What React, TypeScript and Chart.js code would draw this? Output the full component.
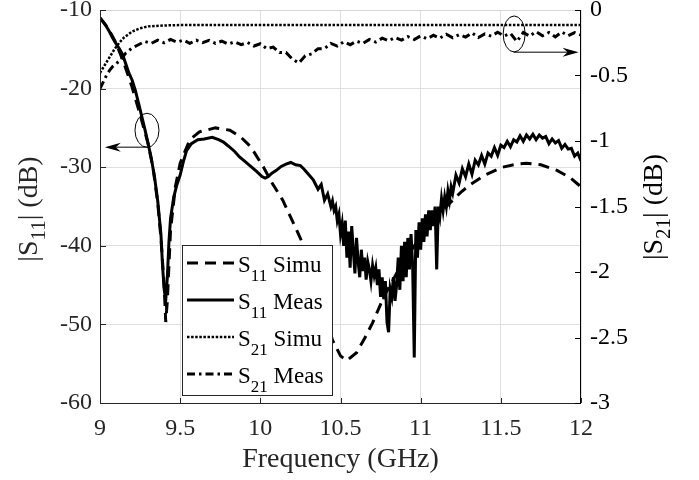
import React, { useEffect, useRef } from 'react';
import { Chart, registerables } from 'chart.js';

Chart.register(...registerables);

// ---------- axis ticks ----------
const xTicks = [9, 9.5, 10, 10.5, 11, 11.5, 12];
const xTickLabels = ['9', '9.5', '10', '10.5', '11', '11.5', '12'];
const leftTicks = [-60, -50, -40, -30, -20, -10];
const leftTickLabels = ['-60', '-50', '-40', '-30', '-20', '-10'];
const rightTicks = [-3, -2.5, -2, -1.5, -1, -0.5, 0];
const rightTickLabels = ['-3', '-2.5', '-2', '-1.5', '-1', '-0.5', '0'];

// ---------- S11 simulated (dB, left axis) ----------
const s11SimuFreq = [
  9.0, 9.05, 9.1, 9.15, 9.2, 9.25, 9.3, 9.33, 9.36, 9.38, 9.4, 9.41, 9.42, 9.44, 9.47,
  9.5, 9.56, 9.62, 9.72, 9.81, 9.88, 9.94, 10.02, 10.07, 10.14, 10.24, 10.31, 10.38,
  10.45, 10.5, 10.54, 10.6, 10.65, 10.7, 10.77, 10.85, 10.95, 11.05, 11.15, 11.25,
  11.31, 11.4, 11.51, 11.6, 11.66, 11.75, 11.85, 11.93, 12.0,
];
const s11SimuVal = [
  -11, -12.3, -14.2, -16.8, -19.8, -23.3, -27.0, -30.0, -34.5, -39.0, -45.0, -49.7, -47.0, -38.0, -32.5,
  -29.5, -26.5, -25.5, -25.0, -25.3, -26.2, -27.4, -30.0, -31.9, -34.2, -38.6, -41.8, -46.9,
  -52.0, -54.0, -54.6, -53.6, -51.8, -49.8, -46.5, -43.5, -40.3, -37.5, -35.2, -33.2,
  -32.2, -31.0, -30.0, -29.6, -29.5, -29.7, -30.4, -31.3, -32.5,
];

// ---------- S11 measured (dB, left axis) ----------
const s11MeasFreq = [
  9.0, 9.02, 9.04, 9.06, 9.08, 9.1, 9.12, 9.14, 9.16, 9.18, 9.2, 9.22, 9.24, 9.26, 9.28,
  9.3, 9.32, 9.34, 9.36, 9.38, 9.39, 9.4, 9.41, 9.42, 9.43, 9.44, 9.46, 9.48, 9.5, 9.52,
  9.54, 9.57, 9.61, 9.65, 9.7, 9.74, 9.77, 9.8, 9.84, 9.87, 9.9, 9.94, 9.98, 10.01, 10.03,
  10.05, 10.07, 10.1, 10.13, 10.16, 10.19, 10.22, 10.25, 10.27, 10.3, 10.33, 10.36, 10.38,
  10.4, 10.42, 10.44, 10.45,
  10.46, 10.47, 10.48, 10.49, 10.5, 10.51, 10.52, 10.53, 10.54, 10.55, 10.56, 10.57, 10.58,
  10.59, 10.6, 10.61, 10.62, 10.63, 10.64, 10.65, 10.66, 10.67, 10.68, 10.69, 10.7, 10.71,
  10.72, 10.73, 10.74, 10.75, 10.76, 10.77, 10.78, 10.79, 10.8, 10.81, 10.82, 10.83, 10.84,
  10.85, 10.86, 10.87, 10.88, 10.89, 10.9, 10.91, 10.92, 10.93, 10.94, 10.95, 10.96, 10.97,
  10.98, 10.99, 11.0, 11.01, 11.02, 11.03, 11.04, 11.05, 11.06, 11.07, 11.08, 11.09, 11.1,
  11.11, 11.12, 11.13, 11.14, 11.15, 11.16, 11.17, 11.18, 11.19, 11.2,
  11.22, 11.24, 11.26, 11.28, 11.3, 11.32, 11.34, 11.36, 11.38, 11.4, 11.42, 11.44, 11.46,
  11.48, 11.5, 11.52, 11.54, 11.56, 11.58, 11.6, 11.62, 11.64, 11.66, 11.68, 11.7, 11.72,
  11.74, 11.76, 11.78, 11.8, 11.82, 11.84, 11.86, 11.88, 11.9, 11.92, 11.94, 11.96, 11.98, 12.0,
];
const s11MeasVal = [
  -11.0, -11.5, -12.1, -12.8, -13.6, -14.3, -14.9, -15.6, -16.8, -18.0, -18.9, -20.2, -21.8, -23.5, -25.2,
  -27.0, -28.9, -31.2, -34.3, -38.5, -42.5, -45.5, -46.9, -44.0, -39.5, -36.5, -33.8, -32.2, -31.0, -29.3,
  -27.9, -27.0, -26.5, -26.4, -26.2, -26.5, -26.8, -27.3, -28.0, -28.7, -29.2, -29.9, -30.6, -31.2, -31.4,
  -31.2, -30.8, -30.4, -29.9, -29.6, -29.4, -29.7, -29.8, -30.2, -30.9, -31.6, -32.8, -32.2,
  -34.2, -33.4, -35.0, -34.3,
  -35.5, -35.0, -36.8, -36.0, -38.5, -37.2, -40.0, -36.8, -41.5, -38.2, -42.8, -37.5, -40.6,
  -43.5, -39.0, -42.0, -44.0, -40.5, -43.2, -41.5, -44.3, -42.0, -43.0, -44.5, -42.5, -43.8,
  -42.8, -45.0, -43.0, -46.5, -44.0, -46.8, -44.5, -49.7, -51.0, -45.5, -46.5, -44.0, -47.0,
  -45.0, -41.5, -45.6, -40.0, -44.5, -39.5, -44.0, -39.0, -43.0, -38.5, -42.5, -54.2, -38.0,
  -41.5, -37.0, -40.5, -36.5, -39.5, -36.0, -38.8, -35.5, -38.0, -35.5, -37.5, -35.0, -43.0,
  -35.0, -36.2, -34.0, -35.5, -33.8, -35.0, -33.0, -34.2, -32.5, -33.3,
  -31.0, -32.0, -30.2, -31.2, -29.6, -30.9, -29.1, -29.7, -28.5, -29.6, -28.2, -28.6, -27.5,
  -28.5, -27.2, -27.5, -26.7, -27.4, -26.5, -26.8, -26.0, -26.7, -25.9, -26.4, -25.8, -26.5,
  -25.9, -26.3, -26.1, -27.0, -26.4, -26.9, -26.6, -27.6, -27.1, -27.7, -27.6, -28.6, -28.2, -29.2,
];

// ---------- S21 simulated (dB, right axis) ----------
const s21SimuFreq = [9.0, 9.03, 9.06, 9.09, 9.12, 9.15, 9.2, 9.25, 9.3, 9.4, 9.5, 10.0, 10.5, 11.0, 11.5, 12.0];
const s21SimuVal = [-0.48, -0.42, -0.36, -0.3, -0.25, -0.21, -0.165, -0.14, -0.125, -0.118, -0.115, -0.115, -0.115, -0.115, -0.115, -0.115];

// ---------- S21 measured (dB, right axis) ----------
const s21MeasFreq = [
  9.0, 9.02, 9.04, 9.06, 9.08, 9.1, 9.13, 9.16, 9.2,
  9.24, 9.28, 9.32, 9.36, 9.4, 9.44, 9.48, 9.52, 9.56, 9.6, 9.64, 9.68, 9.72, 9.76, 9.8,
  9.84, 9.88, 9.92, 9.96, 10.0, 10.04, 10.08, 10.12, 10.16, 10.2, 10.24, 10.28, 10.32,
  10.36, 10.4, 10.44, 10.48, 10.52, 10.56, 10.6, 10.64, 10.68, 10.72, 10.76, 10.8, 10.84,
  10.88, 10.92, 10.96, 11.0, 11.04, 11.08, 11.12, 11.16, 11.2, 11.24, 11.28, 11.32, 11.36,
  11.4, 11.44, 11.48, 11.52, 11.56, 11.6, 11.64, 11.68, 11.72, 11.76, 11.8, 11.84, 11.88,
  11.92, 11.96, 12.0,
];
const s21MeasVal = [
  -0.6, -0.55, -0.5, -0.46, -0.43, -0.41, -0.38, -0.33, -0.29,
  -0.265, -0.24, -0.255, -0.23, -0.25, -0.225, -0.245, -0.23, -0.255, -0.23, -0.25, -0.232, -0.255, -0.237, -0.26,
  -0.243, -0.265, -0.248, -0.275, -0.258, -0.295, -0.283, -0.325, -0.325, -0.375, -0.405, -0.35, -0.335,
  -0.295, -0.295, -0.255, -0.275, -0.243, -0.265, -0.238, -0.255, -0.225, -0.245, -0.215, -0.235, -0.21,
  -0.23, -0.203, -0.225, -0.198, -0.22, -0.193, -0.215, -0.185, -0.212, -0.188, -0.207, -0.175, -0.21,
  -0.182, -0.2, -0.17, -0.198, -0.178, -0.24, -0.172, -0.2, -0.165, -0.196, -0.172, -0.205, -0.168,
  -0.196, -0.172, -0.192,
];

// ---------- legend ----------
const legendSubs = ['11', '11', '21', '21'];
const legendNames = ['Simu', 'Meas', 'Simu', 'Meas'];

const FONT = '"Liberation Serif", "Times New Roman", serif';

const zip = (f: number[], v: number[]) => f.map((x, i) => ({ x, y: v[i] }));

const lineStyles = [
  { width: 3, dash: [11, 7] },
  { width: 3, dash: [] as number[] },
  { width: 2.5, dash: [2.5, 1.6] },
  { width: 3, dash: [8, 4, 2.5, 4] },
];

type Part = [string, number, number];

function partsWidth(ctx: CanvasRenderingContext2D, parts: Part[]) {
  let w = 0;
  for (const [t, s] of parts) {
    ctx.font = `${s}px ${FONT}`;
    w += ctx.measureText(t).width;
  }
  return w;
}
function drawParts(ctx: CanvasRenderingContext2D, parts: Part[], x: number, y: number) {
  let cx = x;
  for (const [t, s, dy] of parts) {
    ctx.font = `${s}px ${FONT}`;
    ctx.fillText(t, cx, y + dy);
    cx += ctx.measureText(t).width;
  }
}

function arrow(ctx: CanvasRenderingContext2D, x0: number, y0: number, x1: number, y1: number) {
  const ang = Math.atan2(y1 - y0, x1 - x0);
  const len = 16;
  const hw = 4.5;
  ctx.beginPath();
  ctx.moveTo(x0, y0);
  ctx.lineTo(x1 - Math.cos(ang) * 6, y1 - Math.sin(ang) * 6);
  ctx.stroke();
  const bx = x1 - Math.cos(ang) * len;
  const by = y1 - Math.sin(ang) * len;
  ctx.beginPath();
  ctx.moveTo(x1, y1);
  ctx.lineTo(bx - Math.sin(ang) * hw, by + Math.cos(ang) * hw);
  ctx.lineTo(x1 - Math.cos(ang) * 11, y1 - Math.sin(ang) * 11);
  ctx.lineTo(bx + Math.sin(ang) * hw, by - Math.cos(ang) * hw);
  ctx.closePath();
  ctx.fill();
}

const zeroPad = (s: any) => {
  s.paddingTop = 0;
  s.paddingBottom = 0;
  s.paddingLeft = 0;
  s.paddingRight = 0;
};

const decorPlugin = {
  id: 'decor',
  afterDatasetsDraw(chart: any) {
    const { ctx, chartArea } = chart;
    const { left, right, top, bottom } = chartArea;
    const xs = chart.scales.x;
    const ys = chart.scales.y;
    const y2s = chart.scales.y2;
    ctx.save();
    ctx.lineWidth = 1;
    // top border (light)
    ctx.strokeStyle = '#d6d6d6';
    ctx.beginPath();
    ctx.moveTo(left, top + 0.5);
    ctx.lineTo(right, top + 0.5);
    ctx.stroke();
    // left and bottom axes
    ctx.strokeStyle = '#262626';
    ctx.beginPath();
    ctx.moveTo(left + 0.5, top);
    ctx.lineTo(left + 0.5, bottom + 1);
    ctx.moveTo(left, bottom + 0.5);
    ctx.lineTo(right, bottom + 0.5);
    ctx.stroke();
    ctx.beginPath();
    for (const v of xTicks) {
      const px = Math.round(xs.getPixelForValue(v)) + 0.5;
      ctx.moveTo(px, bottom);
      ctx.lineTo(px, bottom - 5);
    }
    for (const v of leftTicks) {
      const py = Math.round(ys.getPixelForValue(v)) + 0.5;
      ctx.moveTo(left, py);
      ctx.lineTo(left + 6, py);
    }
    ctx.stroke();
    // right axis
    ctx.strokeStyle = '#000';
    ctx.beginPath();
    ctx.moveTo(right - 0.5, top);
    ctx.lineTo(right - 0.5, bottom + 1);
    for (const v of rightTicks) {
      const py = Math.round(y2s.getPixelForValue(v)) + 0.5;
      ctx.moveTo(right, py);
      ctx.lineTo(right - 6, py);
    }
    ctx.stroke();

    // annotations: ellipses + arrows
    ctx.strokeStyle = '#000';
    ctx.fillStyle = '#000';
    ctx.lineWidth = 1;
    ctx.beginPath();
    ctx.ellipse(xs.getPixelForValue(9.293), ys.getPixelForValue(-25.3), 12, 17, 0, 0, Math.PI * 2);
    ctx.stroke();
    arrow(ctx, xs.getPixelForValue(9.31), ys.getPixelForValue(-27.45), xs.getPixelForValue(9.03), ys.getPixelForValue(-27.45));
    ctx.beginPath();
    ctx.ellipse(xs.getPixelForValue(11.583), y2s.getPixelForValue(-0.183), 11, 18, 0, 0, Math.PI * 2);
    ctx.stroke();
    arrow(ctx, xs.getPixelForValue(11.58), y2s.getPixelForValue(-0.322), xs.getPixelForValue(11.985), y2s.getPixelForValue(-0.322));

    // legend
    const lx = left + 82;
    const ly = top + 235;
    const lw = 150;
    const lh = 150;
    ctx.fillStyle = '#fff';
    ctx.fillRect(lx, ly, lw, lh);
    ctx.strokeStyle = '#262626';
    ctx.lineWidth = 1;
    ctx.strokeRect(lx + 0.5, ly + 0.5, lw, lh);
    for (let i = 0; i < 4; i++) {
      const cy = ly + 18 + i * 37;
      const st = lineStyles[i];
      ctx.strokeStyle = '#000';
      ctx.lineWidth = st.width;
      ctx.setLineDash(st.dash);
      ctx.beginPath();
      ctx.moveTo(lx + 5, cy);
      ctx.lineTo(lx + 52, cy);
      ctx.stroke();
      ctx.setLineDash([]);
      ctx.fillStyle = '#000';
      ctx.textBaseline = 'alphabetic';
      ctx.textAlign = 'left';
      drawParts(ctx, [['S', 23, 0], [legendSubs[i], 17, 9], [' ' + legendNames[i], 23, 0]], lx + 56, cy + 9);
    }

    // axis titles
    ctx.fillStyle = '#262626';
    ctx.textBaseline = 'alphabetic';
    ctx.textAlign = 'left';
    const fq: Part[] = [['Frequency (GHz)', 28, 0]];
    const fw = partsWidth(ctx, fq);
    drawParts(ctx, fq, (left + right) / 2 - fw / 2, 467);

    const t1: Part[] = [['|S', 28, 0], ['11', 21, 8], ['| (dB)', 28, 0]];
    const w1 = partsWidth(ctx, t1);
    ctx.save();
    ctx.translate(37, 209);
    ctx.rotate(-Math.PI / 2);
    drawParts(ctx, t1, -w1 / 2, 0);
    ctx.restore();

    ctx.fillStyle = '#000';
    const t2: Part[] = [['|S', 28, 0], ['21', 21, 8], ['| (dB)', 28, 0]];
    const w2 = partsWidth(ctx, t2);
    ctx.save();
    ctx.translate(662, 207);
    ctx.rotate(-Math.PI / 2);
    drawParts(ctx, t2, -w2 / 2, 0);
    ctx.restore();

    ctx.restore();
  },
};

export default function App() {
  const ref = useRef<HTMLCanvasElement | null>(null);
  useEffect(() => {
    if (!ref.current) return;
    const tickFont = { family: FONT, size: 24 };
    const chart = new Chart(ref.current, {
      type: 'line',
      data: {
        datasets: [
          {
            label: 'S11 Simu',
            data: zip(s11SimuFreq, s11SimuVal),
            yAxisID: 'y',
            borderColor: '#000',
            borderWidth: lineStyles[0].width,
            borderDash: lineStyles[0].dash,
            pointRadius: 0,
            tension: 0,
            fill: false,
            order: 2,
          },
          {
            label: 'S11 Meas',
            data: zip(s11MeasFreq, s11MeasVal),
            yAxisID: 'y',
            borderColor: '#000',
            borderWidth: lineStyles[1].width,
            pointRadius: 0,
            tension: 0,
            fill: false,
            order: 0,
          },
          {
            label: 'S21 Simu',
            data: zip(s21SimuFreq, s21SimuVal),
            yAxisID: 'y2',
            borderColor: '#000',
            borderWidth: lineStyles[2].width,
            borderDash: lineStyles[2].dash,
            pointRadius: 0,
            tension: 0,
            fill: false,
            order: 3,
          },
          {
            label: 'S21 Meas',
            data: zip(s21MeasFreq, s21MeasVal),
            yAxisID: 'y2',
            borderColor: '#000',
            borderWidth: lineStyles[3].width,
            borderDash: lineStyles[3].dash,
            pointRadius: 0,
            tension: 0,
            fill: false,
            order: 1,
          },
        ],
      },
      options: {
        responsive: false,
        animation: false,
        events: [],
        layout: { padding: { top: 10, left: 0, right: 0, bottom: 0 } },
        plugins: { legend: { display: false }, tooltip: { enabled: false } },
        scales: {
          x: {
            type: 'linear',
            min: 9,
            max: 12,
            afterBuildTicks: (s: any) => {
              s.ticks = xTicks.map((v) => ({ value: v }));
            },
            afterFit: (s: any) => {
              s.height = 77;
              zeroPad(s);
            },
            ticks: {
              callback: (v: any) => xTickLabels[xTicks.indexOf(Number(v))] ?? '',
              font: tickFont,
              color: '#262626',
              padding: 11,
              maxRotation: 0,
              autoSkip: false,
            },
            grid: { color: '#dfdfdf', lineWidth: 1, drawTicks: false },
            border: { display: false },
          },
          y: {
            type: 'linear',
            position: 'left',
            min: -60,
            max: -10,
            afterBuildTicks: (s: any) => {
              s.ticks = leftTicks.map((v) => ({ value: v }));
            },
            afterFit: (s: any) => {
              s.width = 100;
              zeroPad(s);
            },
            ticks: {
              callback: (v: any) => leftTickLabels[leftTicks.indexOf(Number(v))] ?? '',
              font: tickFont,
              color: '#262626',
              padding: 8,
              autoSkip: false,
            },
            grid: { color: '#dfdfdf', lineWidth: 1, drawTicks: false },
            border: { display: false },
          },
          y2: {
            type: 'linear',
            position: 'right',
            min: -3,
            max: 0,
            afterBuildTicks: (s: any) => {
              s.ticks = rightTicks.map((v) => ({ value: v }));
            },
            afterFit: (s: any) => {
              s.width = 118;
              zeroPad(s);
            },
            ticks: {
              callback: (v: any) => rightTickLabels[rightTicks.indexOf(Number(v))] ?? '',
              font: tickFont,
              color: '#000',
              padding: 9,
              autoSkip: false,
            },
            grid: { display: false, drawTicks: false },
            border: { display: false },
          },
        },
      },
      plugins: [decorPlugin],
    } as any);
    return () => chart.destroy();
  }, []);
  return (
    <div style={{ position: 'fixed', left: 0, top: 0, width: 699, height: 480, background: '#fff' }}>
      <canvas ref={ref} width={699} height={480} style={{ display: 'block' }} />
    </div>
  );
}
